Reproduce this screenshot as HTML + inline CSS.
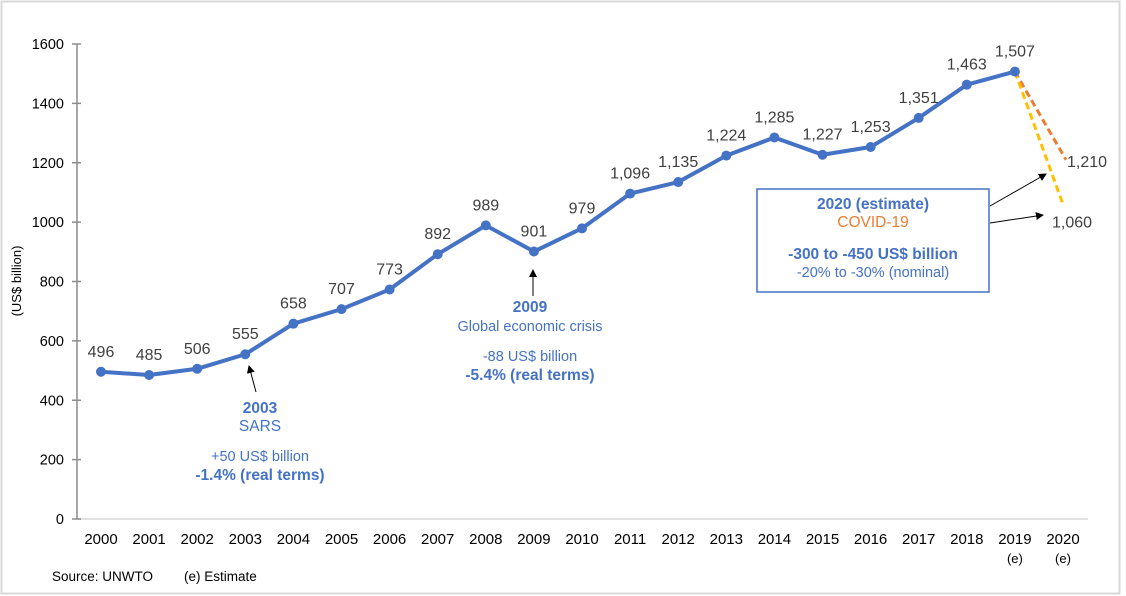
<!DOCTYPE html>
<html><head><meta charset="utf-8"><style>
body{margin:0;background:#fff;}
svg{display:block;font-family:"Liberation Sans",Arial,sans-serif;}
</style></head><body>
<svg id="chart" width="1126" height="596" viewBox="0 0 1126 596">
<rect x="1.5" y="1.5" width="1118" height="592" fill="#fff" stroke="#d9d9d9" stroke-width="2"/>
<g id="axes"></g>
<g id="marks"></g>
<g id="annos"></g>
</svg>
<script>
const years = ["2000","2001","2002","2003","2004","2005","2006","2007","2008","2009","2010","2011","2012","2013","2014","2015","2016","2017","2018","2019","2020"];
const values = [496,485,506,555,658,707,773,892,989,901,979,1096,1135,1224,1285,1227,1253,1351,1463,1507];
const valueLabels = ["496","485","506","555","658","707","773","892","989","901","979","1,096","1,135","1,224","1,285","1,227","1,253","1,351","1,463","1,507"];
const estHigh = 1210;
const estLow = 1060;
const yTicks = [0,200,400,600,800,1000,1200,1400,1600];

const NS="http://www.w3.org/2000/svg";
const X0=101, XSTEP=48.1, Y0=519, YTOP=44, YMAX=1600;
const xs=i=>X0+i*XSTEP;
const ys=v=>Y0-(Y0-YTOP)*v/YMAX;
function mk(parent,tag,attrs,text){const e=document.createElementNS(NS,tag);for(const k in attrs)e.setAttribute(k,attrs[k]);if(text!==undefined)e.textContent=text;document.getElementById(parent).appendChild(e);return e;}

let e=mk("axes","line",{x1:77,y1:ys(0),x2:1088,y2:ys(0),stroke:"#d9d9d9","stroke-width":1.5});


e=mk("axes","line",{x1:77,y1:ys(1600),x2:77,y2:ys(0),stroke:"#8c8c8c","stroke-width":1.5});


yTicks.forEach(t=>{
  const tk=mk("axes","line",{x1:72,y1:ys(t),x2:81,y2:ys(t),stroke:"#8c8c8c","stroke-width":1.5});
  
  
  const lb=mk("axes","text",{x:64,y:ys(t)+5,"text-anchor":"end","font-size":14.5,fill:"#000"},String(t));
  
  
});
years.forEach((y,i)=>{
  const lb=mk("axes","text",{x:xs(i),y:544,"text-anchor":"middle","font-size":15,fill:"#000"},y);
  
  
});
[19,20].forEach(i=>{
  const lb=mk("axes","text",{x:xs(i),y:563,"text-anchor":"middle","font-size":13,fill:"#000"},"(e)");
  
  
});
e=mk("axes","text",{transform:"translate(21,281) rotate(-90)","text-anchor":"middle","font-size":13,fill:"#000"},"(US$ billion)");


e=mk("axes","text",{x:52,y:581,"font-size":13.5,fill:"#000"},"Source: UNWTO");


e=mk("axes","text",{x:184,y:581,"font-size":13.5,fill:"#000"},"(e) Estimate");



const li=values.length-1;
e=mk("marks","line",{x1:xs(li),y1:ys(values[li]),x2:xs(20)+3,y2:ys(estHigh),stroke:"#ed7d31","stroke-width":3,"stroke-dasharray":"7 4"});


e=mk("marks","line",{x1:xs(li),y1:ys(values[li]),x2:xs(20),y2:ys(estLow),stroke:"#ffc000","stroke-width":3,"stroke-dasharray":"7 4"});



e=mk("marks","polyline",{points:values.map((v,i)=>xs(i)+","+ys(v)).join(" "),fill:"none",stroke:"#4472c4","stroke-width":4,"stroke-linejoin":"round"});


values.forEach((v,i)=>{
  const c=mk("marks","circle",{cx:xs(i),cy:ys(v),r:5,fill:"#4472c4"});
  
  
  const t=mk("marks","text",{x:xs(i),y:ys(v)-15,"text-anchor":"middle","font-size":16,fill:"#404040"},valueLabels[i]);
  
  
});
e=mk("marks","text",{x:1067,y:ys(estHigh)+7,"font-size":16,fill:"#404040"},"1,210");


e=mk("marks","text",{x:1052,y:ys(estLow)+23,"font-size":16,fill:"#404040"},"1,060");


</script>
<svg width="1126" height="596" style="position:absolute;left:0;top:0;font-family:'Liberation Sans',Arial,sans-serif">
<defs><marker id="ah" markerWidth="8" markerHeight="8" refX="7" refY="4" orient="auto"><path d="M0,0 L8,4 L0,8 z" fill="#000"/></marker></defs>
<g>
<line x1="256" y1="392" x2="249" y2="366" stroke="#000" stroke-width="1" marker-end="url(#ah)"/>
<text x="260" y="413" text-anchor="middle" font-size="15.5" font-weight="bold" fill="#4472c4">2003</text>
<text x="260" y="431" text-anchor="middle" font-size="15.5" fill="#4472c4">SARS</text>
<text x="260" y="461" text-anchor="middle" font-size="14.5" fill="#4472c4">+50 US$ billion</text>
<text x="260" y="480" text-anchor="middle" font-size="15.5" font-weight="bold" fill="#4472c4">-1.4% (real terms)</text>
</g>
<g>
<line x1="533" y1="296" x2="533" y2="270" stroke="#000" stroke-width="1" marker-end="url(#ah)"/>
<text x="530" y="312" text-anchor="middle" font-size="15.5" font-weight="bold" fill="#4472c4">2009</text>
<text x="530" y="331" text-anchor="middle" font-size="14.5" fill="#4472c4">Global economic crisis</text>
<text x="530" y="361" text-anchor="middle" font-size="14.5" fill="#4472c4">-88 US$ billion</text>
<text x="530" y="380" text-anchor="middle" font-size="15.5" font-weight="bold" fill="#4472c4">-5.4% (real terms)</text>
</g>
<g>
<rect x="757" y="189" width="232" height="103" fill="#fff" stroke="#4472c4" stroke-width="1.5"/>
<text x="873" y="209" text-anchor="middle" font-size="15.5" font-weight="bold" fill="#4472c4">2020 (estimate)</text>
<text x="873" y="227" text-anchor="middle" font-size="15.5" fill="#ed7d31">COVID-19</text>
<text x="873" y="259" text-anchor="middle" font-size="15.5" font-weight="bold" fill="#4472c4">-300 to -450 US$ billion</text>
<text x="873" y="277" text-anchor="middle" font-size="14.5" fill="#4472c4">-20% to -30% (nominal)</text>
<line x1="990" y1="206" x2="1046" y2="174" stroke="#000" stroke-width="1" marker-end="url(#ah)"/>
<line x1="990" y1="223" x2="1043" y2="215" stroke="#000" stroke-width="1" marker-end="url(#ah)"/>
</g>
</svg>
</body></html>
